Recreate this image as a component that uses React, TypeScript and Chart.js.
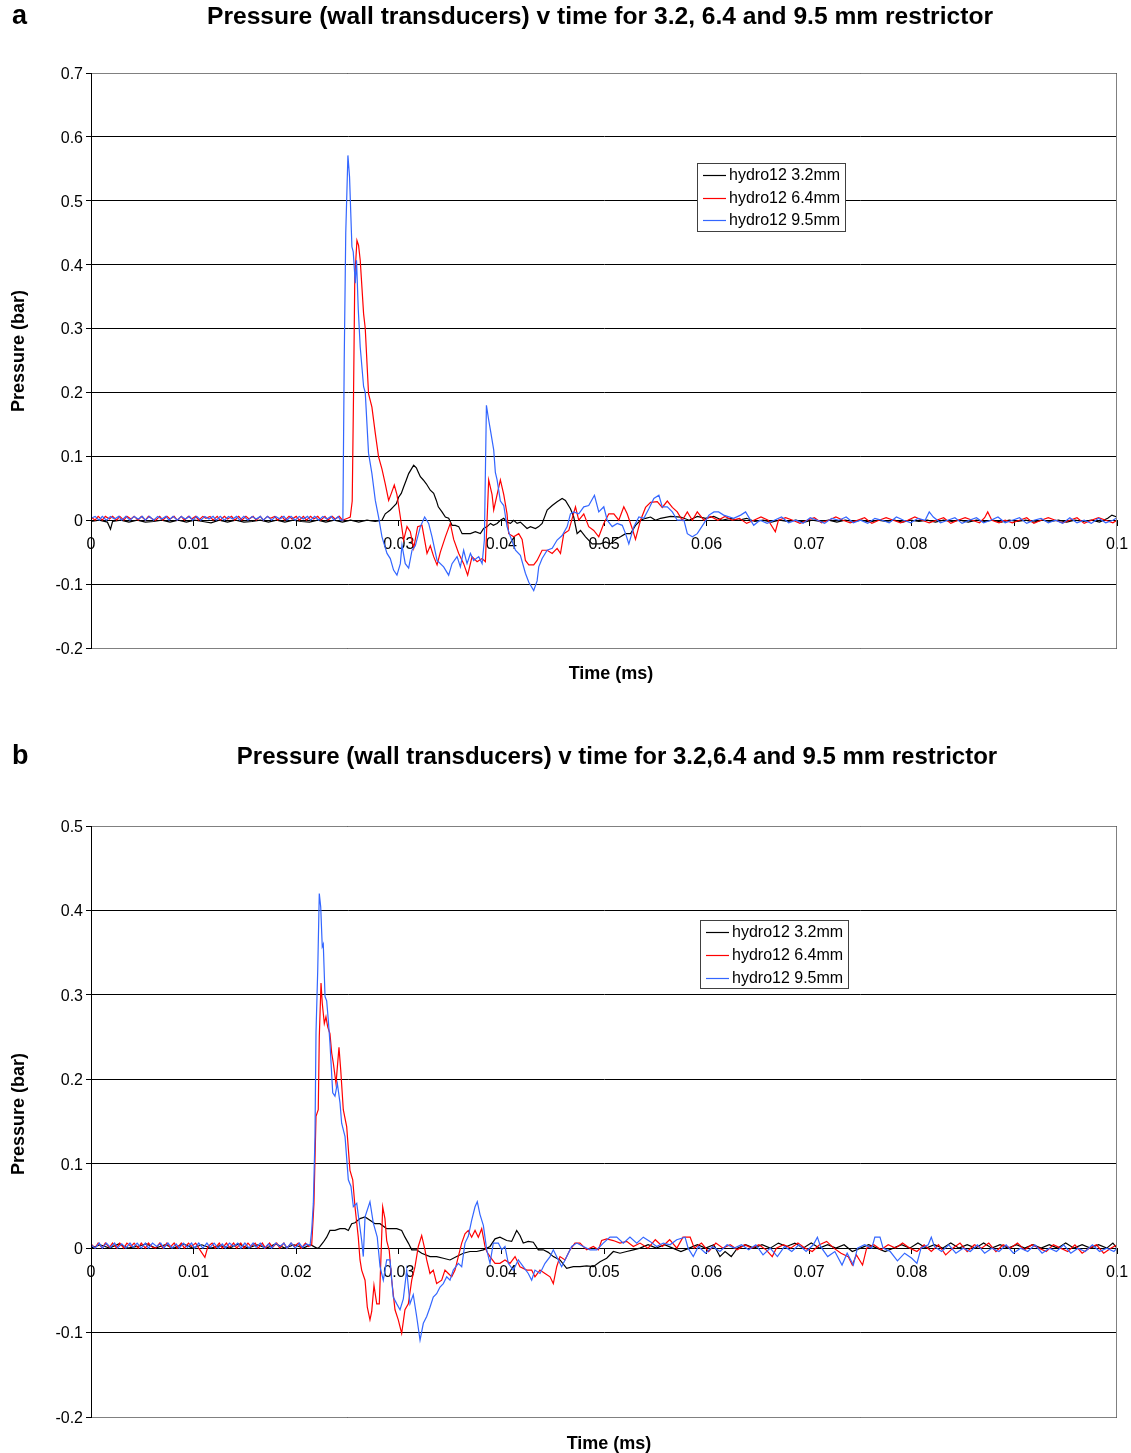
import React, { useEffect, useRef } from 'react';
import { Chart, registerables } from 'chart.js';

Chart.register(...registerables);

// ---------- Panel a : [time (ms), pressure (bar)] ----------
const a32: number[][] = [
  [0,-0.002],[0.0008,0],[0.0016,-0.003],[0.0019,-0.014],[0.0021,-0.002],[0.0029,0],[0.0037,-0.003],[0.0045,0],[0.0053,-0.003],[0.0061,-0.002],[0.0069,0],[0.0077,-0.003],[0.0085,0],[0.0093,-0.003],[0.0101,0],[0.0109,-0.002],[0.0117,-0.004],[0.0125,0],[0.0133,-0.003],[0.0141,0],[0.0149,-0.003],[0.0157,-0.002],[0.0165,0],[0.0173,-0.003],[0.0181,0],[0.0189,-0.003],[0.0197,0],[0.0205,-0.002],[0.0213,-0.003],[0.0221,0],[0.0229,-0.003],[0.0237,0],[0.0245,-0.003],[0.0253,0],[0.0261,-0.003],[0.0269,0],[0.0277,-0.002],
  [0.02836,0],[0.02852,0.005],[0.02868,0.01],[0.02917,0.016],[0.02946,0.021],[0.02976,0.026],[0.02998,0.036],[0.03024,0.042],[0.03047,0.052],[0.03073,0.063],[0.03096,0.073],[0.03122,0.08],[0.03145,0.086],[0.03171,0.082],[0.0319,0.075],[0.0321,0.068],[0.03239,0.063],[0.03268,0.057],[0.03307,0.047],[0.0334,0.042],[0.03366,0.031],[0.03385,0.021],[0.03421,0.013],[0.03454,0.005],[0.03486,0.003],[0.03519,-0.008],[0.03551,-0.008],[0.03584,-0.01],[0.03617,-0.021],[0.03659,-0.021],[0.03698,-0.021],[0.03746,-0.018],[0.03795,-0.021],[0.03827,-0.013],[0.03861,-0.01],[0.03893,-0.005],[0.03922,-0.008],[0.03958,-0.005],[0.0399,0],[0.04023,0.003],[0.04055,-0.003],[0.04088,-0.005],[0.0412,0],[0.04153,-0.005],[0.04185,-0.003],[0.0425,-0.013],[0.04283,-0.01],[0.04332,-0.013],[0.04364,-0.01],[0.04397,-0.005],[0.04446,0.016],[0.04495,0.023],[0.04543,0.029],[0.04592,0.034],[0.04624,0.031],[0.04673,0.018],[0.04705,0.005],[0.04738,-0.021],[0.04771,-0.016],[0.0482,-0.026],[0.04885,-0.037],[0.04966,-0.037],[0.05015,-0.034],[0.05063,-0.037],[0.05112,-0.03],[0.05161,-0.026],[0.0521,-0.021],[0.05259,-0.021],[0.05307,-0.008],[0.05356,0],[0.05405,0.003],[0.05454,0.005],[0.05502,0],[0.05551,0.003],[0.05649,0.006],[0.05746,0.005],
  [0.0583,0],[0.0591,0.006],[0.0599,0.003],[0.0607,0.006],[0.0615,0],[0.0623,0.003],[0.0631,0],[0.0639,0.003],[0.0647,-0.002],[0.0655,0],[0.0663,-0.003],[0.0671,0],[0.0679,-0.002],[0.0687,0],[0.0695,-0.003],[0.0703,0],[0.0711,-0.002],[0.0719,0],[0.0727,-0.003],[0.0735,0],[0.0743,-0.002],[0.0751,0],[0.0759,-0.003],[0.0767,0],[0.0775,-0.002],[0.0783,0],[0.0791,-0.003],[0.0799,0],[0.0807,-0.002],[0.0815,0],[0.0823,-0.003],[0.0831,0],[0.0839,-0.002],[0.0847,0],[0.0855,-0.003],[0.0863,0],[0.0871,-0.002],[0.0879,0],[0.0887,-0.003],[0.0895,0],[0.0903,-0.002],[0.0911,0],[0.0919,-0.003],[0.0927,0],[0.0935,-0.002],[0.0943,0],[0.0951,-0.003],[0.0959,0],[0.0967,-0.002],[0.0975,0],[0.0983,-0.003],[0.0991,0.003],[0.0995,0.008],[0.1,0.005],
];

const a64: number[][] = [
  [0,0.005],[0.0004,0],[0.0007,0.006],[0.0011,0],[0.0014,0.006],[0.0018,0.002],[0.0021,0.006],[0.0025,0],[0.0028,0.006],[0.0032,0],[0.0035,0.006],[0.0039,0.002],[0.0042,0.006],[0.0046,0],[0.0049,0.006],[0.0053,0],[0.0056,0.006],[0.006,0.002],[0.0063,0],[0.0067,0.006],[0.007,0],[0.0074,0.006],[0.0077,0.002],[0.0081,0.006],[0.0084,0],[0.0088,0.006],[0.0091,0],[0.0095,0.006],[0.0098,0.002],[0.0102,0.006],[0.0105,0],[0.0109,0.006],[0.0112,0.003],[0.0116,0.006],[0.0119,0],[0.0123,0.006],[0.0126,0],[0.013,0.006],[0.0133,0.002],[0.0137,0.006],[0.014,0],[0.0144,0.006],[0.0147,0],[0.0151,0.006],[0.0154,0.002],[0.0158,0.006],[0.0161,0],[0.0165,0.006],[0.0168,0],[0.0172,0.006],[0.0175,0.003],[0.0179,0.006],[0.0182,0],[0.0186,0.006],[0.0189,0],[0.0193,0.006],[0.0196,0.002],[0.02,0.006],[0.0203,0],[0.0207,0.006],[0.021,0],[0.0214,0.006],[0.0217,0.002],[0.0221,0.006],[0.0224,0],[0.0228,0.006],[0.0231,0],[0.0235,0.006],[0.0238,0.002],[0.0242,0.006],[0.0245,0],[0.025,0.003],
  [0.02527,0.005],[0.02546,0.03],[0.02559,0.2],[0.02571,0.38],[0.02592,0.438],[0.02608,0.43],[0.02624,0.407],[0.02657,0.323],[0.02673,0.3],[0.02705,0.198],[0.02738,0.177],[0.02771,0.136],[0.02803,0.099],[0.02836,0.08],[0.02868,0.057],[0.02901,0.031],[0.02927,0.042],[0.02956,0.055],[0.02982,0.04],[0.03015,0.005],[0.03047,-0.031],[0.0308,-0.01],[0.03112,-0.018],[0.03145,-0.044],[0.03184,-0.01],[0.03226,-0.008],[0.03275,-0.052],[0.03307,-0.04],[0.0334,-0.057],[0.03373,-0.07],[0.03405,-0.05],[0.03454,-0.026],[0.03502,-0.005],[0.03535,-0.03],[0.03584,-0.052],[0.03632,-0.068],[0.03671,-0.086],[0.03714,-0.057],[0.03763,-0.065],[0.03812,-0.06],[0.03844,-0.065],[0.03876,0.063],[0.03909,0.04],[0.03925,0.016],[0.03958,0.04],[0.0399,0.063],[0.04023,0.04],[0.04055,0.01],[0.04071,-0.021],[0.0412,-0.026],[0.04169,-0.021],[0.04202,-0.03],[0.04234,-0.063],[0.04267,-0.07],[0.04315,-0.07],[0.04348,-0.063],[0.04397,-0.047],[0.04446,-0.047],[0.04495,-0.052],[0.04543,-0.044],[0.04576,-0.052],[0.04608,-0.021],[0.04657,-0.016],[0.0469,0.003],[0.04722,0.021],[0.04754,0],[0.04803,0.01],[0.04851,-0.01],[0.049,-0.016],[0.04949,-0.026],[0.04998,-0.005],[0.05047,0.01],[0.05096,0.01],[0.05144,0],[0.05193,0.021],[0.05226,0.01],[0.05275,-0.013],[0.05307,-0.03],[0.05356,0],[0.05405,0.02],[0.05454,0.028],[0.05519,0.029],[0.05568,0.02],[0.05617,0.03],[0.05666,0.02],[0.05714,0.013],[0.05763,0],[0.05812,0.013],[0.05861,0],[0.05909,0.013],[0.05974,0],[0.06039,0.006],
  [0.0611,0],[0.0618,0.006],[0.0625,0],[0.0632,0.003],[0.0639,-0.005],[0.0646,0],[0.0653,0.005],[0.066,0],[0.0667,-0.018],[0.067,0],[0.0677,0.004],[0.0684,0],[0.0691,-0.005],[0.0698,0],[0.0705,0.004],[0.0712,-0.004],[0.0719,0],[0.0726,0.005],[0.0733,0],[0.074,-0.004],[0.0747,0],[0.0754,0.004],[0.0761,-0.005],[0.0768,0],[0.0775,0.004],[0.0782,0],[0.0789,-0.004],[0.0796,0],[0.0803,0.005],[0.081,0],[0.0817,-0.004],[0.0824,0],[0.0831,0.004],[0.0838,-0.005],[0.0845,0],[0.0852,0.004],[0.0859,0],[0.0866,-0.004],[0.0871,0.004],[0.0874,0.013],[0.0878,0],[0.0885,-0.004],[0.0891,0],[0.0898,-0.004],[0.0905,0],[0.0912,0.004],[0.0919,-0.005],[0.0926,0],[0.0933,0.004],[0.094,0],[0.0947,-0.004],[0.0954,0],[0.0961,0.004],[0.0968,-0.005],[0.0975,0],[0.0982,0.004],[0.0989,0],[0.0996,-0.004],[0.1,0],
];

const a95: number[][] = [
  [0,0.003],[0.0004,0.006],[0.0008,0],[0.0011,0.006],[0.0015,0],[0.0019,0.006],[0.0023,0.002],[0.0027,0.006],[0.003,0],[0.0034,0.006],[0.0038,0],[0.0042,0.006],[0.0046,0.002],[0.005,0.006],[0.0053,0],[0.0057,0.006],[0.0061,0],[0.0065,0.006],[0.0069,0.002],[0.0073,0.006],[0.0076,0],[0.008,0.006],[0.0084,0],[0.0088,0.006],[0.0092,0.002],[0.0096,0.006],[0.0099,0],[0.0103,0.006],[0.0107,0],[0.0111,0.006],[0.0115,0.002],[0.0119,0.006],[0.0122,0],[0.0126,0.006],[0.013,0],[0.0134,0.006],[0.0138,0.002],[0.0142,0.006],[0.0145,0],[0.0149,0.006],[0.0153,0],[0.0157,0.006],[0.0161,0.002],[0.0165,0.006],[0.0168,0],[0.0172,0.006],[0.0176,0],[0.018,0.006],[0.0184,0.002],[0.0188,0.006],[0.0191,0],[0.0195,0.006],[0.0199,0],[0.0203,0.006],[0.0207,0.002],[0.0211,0.006],[0.0214,0],[0.0218,0.006],[0.0222,0],[0.0226,0.006],[0.023,0.002],[0.0234,0.006],[0.0237,0],[0.0241,0.006],[0.0243,0],
  [0.02455,0],[0.02468,0.25],[0.02483,0.45],[0.02504,0.571],[0.0252,0.537],[0.02532,0.48],[0.02543,0.428],[0.02556,0.42],[0.02576,0.371],[0.02588,0.407],[0.02605,0.33],[0.02624,0.271],[0.02657,0.209],[0.02673,0.2],[0.02705,0.105],[0.02738,0.073],[0.02771,0.031],[0.02803,0.005],[0.02836,-0.026],[0.02885,-0.052],[0.02917,-0.06],[0.02949,-0.078],[0.02982,-0.086],[0.03015,-0.068],[0.03031,-0.039],[0.03063,-0.068],[0.03096,-0.075],[0.03129,-0.047],[0.03161,-0.04],[0.0321,-0.01],[0.03252,0.005],[0.03291,-0.005],[0.03324,-0.026],[0.03373,-0.063],[0.03437,-0.073],[0.03486,-0.086],[0.03519,-0.068],[0.03568,-0.057],[0.036,-0.073],[0.03632,-0.047],[0.03665,-0.068],[0.03698,-0.052],[0.0373,-0.063],[0.03779,-0.057],[0.03812,-0.068],[0.03834,-0.031],[0.03854,0.18],[0.03873,0.16],[0.03893,0.141],[0.03925,0.11],[0.03941,0.075],[0.03958,0.063],[0.0399,0.03],[0.04023,0.023],[0.04055,-0.01],[0.04088,-0.026],[0.04137,-0.047],[0.04185,-0.055],[0.04234,-0.083],[0.04267,-0.097],[0.04315,-0.11],[0.04348,-0.095],[0.04364,-0.073],[0.04397,-0.06],[0.04446,-0.047],[0.04495,-0.044],[0.04543,-0.031],[0.04592,-0.024],[0.04641,-0.01],[0.04673,0.01],[0.04705,0.013],[0.04754,0.01],[0.04803,0.021],[0.04851,0.023],[0.04907,0.039],[0.04949,0.013],[0.04998,0.021],[0.05031,0],[0.0508,-0.01],[0.05129,-0.005],[0.05178,-0.008],[0.0521,-0.021],[0.05242,-0.037],[0.05291,-0.01],[0.0534,0.005],[0.05388,0.003],[0.05437,0.018],[0.05486,0.034],[0.05535,0.039],[0.05568,0.021],[0.05617,0.021],[0.05666,0.013],[0.05714,0],[0.05779,0],[0.05812,-0.021],[0.05861,-0.026],[0.05909,-0.021],[0.05974,-0.005],[0.06023,0.008],[0.06072,0.013],[0.06117,0.013],[0.06166,0.008],[0.06263,0.003],[0.06332,0.008],[0.0638,0.013],[0.06459,-0.008],
  [0.0652,0],[0.0659,-0.005],[0.0666,0],[0.0673,0.005],[0.068,-0.004],[0.0687,0],[0.0694,-0.005],[0.0701,0.004],[0.0708,0],[0.0715,-0.005],[0.0722,0.003],[0.0729,0],[0.0736,0.005],[0.0743,-0.004],[0.075,0],[0.0757,-0.005],[0.0764,0.003],[0.0771,0],[0.0778,-0.004],[0.0785,0.005],[0.0792,0],[0.0799,-0.004],[0.0806,0.003],[0.0813,0],[0.0817,0.013],[0.0821,0.005],[0.0828,-0.004],[0.0835,0],[0.0842,0.004],[0.0849,-0.005],[0.0856,0],[0.0863,0.004],[0.087,-0.004],[0.0877,0],[0.0884,0.005],[0.0891,-0.004],[0.0898,0],[0.0905,0.004],[0.0912,-0.005],[0.0919,0],[0.0926,0.003],[0.0933,-0.004],[0.094,0],[0.0947,-0.005],[0.0954,0.004],[0.0961,-0.004],[0.0968,0],[0.0975,-0.005],[0.0982,0.003],[0.0989,-0.004],[0.0996,0],[0.1,0.004],
];

// ---------- Panel b ----------
const b32: number[][] = [
  [0,0],[0.0009,0.004],[0.0018,0],[0.0027,0.005],[0.0036,0],[0.0045,0.002],[0.0054,0.005],[0.0063,0],[0.0072,0.004],[0.0081,0],[0.009,0.005],[0.0099,0],[0.0108,0.004],[0.0117,0],[0.0126,0.003],[0.0135,0],[0.0144,0.005],[0.0153,0],[0.0162,0.004],[0.0171,0],[0.018,0.005],[0.0189,0],[0.0198,0.004],[0.0207,0],[0.0214,0.004],[0.022,0],
  [0.02215,0],[0.02232,0.002],[0.02264,0.007],[0.02297,0.013],[0.02329,0.021],[0.02378,0.021],[0.02427,0.023],[0.02476,0.023],[0.02508,0.021],[0.02541,0.029],[0.02573,0.03],[0.02622,0.035],[0.02671,0.037],[0.02719,0.033],[0.02768,0.029],[0.02817,0.029],[0.02882,0.023],[0.02931,0.023],[0.0298,0.023],[0.03028,0.021],[0.0306,0.013],[0.03093,0.006],[0.03126,-0.002],[0.03174,-0.002],[0.03223,-0.006],[0.03304,-0.01],[0.03369,-0.01],[0.03434,-0.012],[0.03499,-0.014],[0.03564,-0.01],[0.03629,-0.006],[0.03694,-0.004],[0.03759,-0.004],[0.03824,-0.002],[0.03889,0.002],[0.03938,0.011],[0.03986,0.013],[0.04052,0.009],[0.041,0.008],[0.04149,0.021],[0.04181,0.015],[0.04213,0.006],[0.04262,0.008],[0.04311,0.007],[0.0436,-0.002],[0.04408,-0.002],[0.04457,-0.005],[0.04506,-0.01],[0.04571,-0.014],[0.04636,-0.024],[0.04701,-0.022],[0.04766,-0.022],[0.04831,-0.021],[0.04896,-0.022],[0.04961,-0.016],[0.05026,-0.012],[0.05091,-0.004],[0.05156,-0.006],[0.05221,-0.004],[0.05286,-0.002],[0.05351,0],
  [0.0543,0.004],[0.0551,0],[0.0559,0.004],[0.0567,0],[0.0575,-0.004],[0.0583,0],[0.0591,0.004],[0.0599,0],[0.0607,0.004],[0.0613,-0.01],[0.0618,-0.004],[0.0624,-0.01],[0.063,0],[0.0638,0.004],[0.0646,0],[0.0654,0.004],[0.0662,0],[0.067,0.006],[0.0678,0.002],[0.0686,0.006],[0.0694,0],[0.0702,0.006],[0.071,0],[0.0718,0.004],[0.0726,0],[0.0734,0.004],[0.0742,-0.004],[0.075,0],[0.0758,0.004],[0.0766,0],[0.0774,-0.004],[0.0782,0],[0.079,0.004],[0.0798,0],[0.0806,0.006],[0.0814,0],[0.0822,0.004],[0.083,0],[0.0838,0.006],[0.0846,0],[0.0854,0.004],[0.0862,0],[0.087,0.006],[0.0878,0],[0.0886,0.004],[0.0894,0],[0.0902,0.004],[0.091,0],[0.0918,0.004],[0.0926,0],[0.0934,0.004],[0.0942,0],[0.095,0.006],[0.0958,0],[0.0966,0.004],[0.0974,0],[0.0982,0.004],[0.099,0],[0.0996,0.006],[0.1,0],
];

const b64: number[][] = [
  [0,0.005],[0.0004,0],[0.0007,0.006],[0.0011,0],[0.0014,0.006],[0.0018,0.001],[0.0021,0.006],[0.0025,0],[0.0028,0.006],[0.0032,0],[0.0035,0.006],[0.0039,0.002],[0.0042,0.006],[0.0046,0],[0.0049,0.006],[0.0053,0],[0.0056,0.006],[0.006,0.001],[0.0063,0],[0.0067,0.006],[0.007,0],[0.0074,0.006],[0.0077,0.001],[0.0081,0.006],[0.0084,0],[0.0088,0.006],[0.0091,0],[0.0095,0.006],[0.0098,0.002],[0.0102,0.006],[0.0105,0],[0.0111,-0.011],[0.0114,0.002],[0.0118,0.006],[0.0121,0],[0.0125,0.006],[0.0128,0],[0.0132,0.006],[0.0135,0.001],[0.0139,0.006],[0.0142,0],[0.0146,0.006],[0.0149,0],[0.0153,0.006],[0.0156,0.002],[0.016,0.006],[0.0163,0],[0.0167,0.006],[0.017,0],[0.0174,0.006],[0.0177,0.001],[0.0181,0.006],[0.0184,0],[0.0188,0.006],[0.0191,0],[0.0195,0.006],[0.0198,0.002],[0.0202,0.006],[0.0205,0],[0.0209,0.006],[0.0212,0.002],
  [0.02151,0.004],[0.02173,0.053],[0.02193,0.156],[0.02215,0.164],[0.02225,0.25],[0.02242,0.314],[0.02254,0.29],[0.02274,0.266],[0.0229,0.274],[0.02307,0.262],[0.02329,0.254],[0.02346,0.231],[0.02362,0.219],[0.02388,0.195],[0.02417,0.238],[0.02434,0.211],[0.02459,0.164],[0.02492,0.144],[0.02524,0.092],[0.02551,0.081],[0.02573,0.049],[0.02605,0.013],[0.02622,-0.014],[0.02638,-0.026],[0.02671,-0.038],[0.02693,-0.07],[0.02719,-0.085],[0.02736,-0.075],[0.02758,-0.044],[0.02785,-0.066],[0.0281,-0.066],[0.02833,0.013],[0.02843,0.049],[0.02865,0.035],[0.02882,0.009],[0.02907,-0.003],[0.02931,-0.038],[0.02963,-0.073],[0.02995,-0.085],[0.03028,-0.101],[0.0306,-0.073],[0.03093,-0.066],[0.03126,-0.038],[0.03158,-0.022],[0.0319,0.002],[0.03223,0.015],[0.03255,-0.002],[0.03272,-0.014],[0.03304,-0.03],[0.03336,-0.026],[0.03369,-0.042],[0.03418,-0.038],[0.0345,-0.026],[0.03483,-0.03],[0.03516,-0.034],[0.03548,-0.026],[0.0358,-0.01],[0.03613,0.006],[0.03645,0.017],[0.03677,0.021],[0.0371,0.013],[0.03743,0.021],[0.03775,0.013],[0.03808,0.023],[0.0384,0.002],[0.03857,-0.004],[0.03889,-0.01],[0.03938,-0.018],[0.03986,-0.018],[0.04035,-0.014],[0.04084,-0.018],[0.04133,-0.01],[0.04181,-0.022],[0.04247,-0.026],[0.04295,-0.026],[0.04327,-0.034],[0.04376,-0.026],[0.04425,-0.03],[0.04474,-0.034],[0.04506,-0.042],[0.04539,-0.022],[0.04571,-0.01],[0.0462,-0.014],[0.04669,-0.002],[0.04717,0.006],[0.04766,0.006],[0.04831,-0.002],[0.04896,0.002],[0.04945,-0.002],[0.04977,0.009],[0.05026,0.011],[0.05091,0.009],[0.05156,0.006],[0.05221,0.008],[0.05286,0.002],[0.05351,0.006],
  [0.0543,0],[0.055,0.01],[0.0557,0.002],[0.0564,0.01],[0.0571,0],[0.0577,0.013],[0.0584,0.013],[0.0588,0],[0.0595,0.006],[0.0602,-0.004],[0.0609,0.006],[0.0616,0],[0.0623,0.004],[0.063,-0.002],[0.0637,0.004],[0.0644,0],[0.0651,0.004],[0.0658,-0.002],[0.0664,-0.01],[0.0668,0],[0.0675,0.004],[0.0682,0],[0.0689,0.006],[0.0696,0],[0.0703,-0.004],[0.071,0.004],[0.0717,0.008],[0.0724,0],[0.0731,-0.006],[0.0738,-0.01],[0.0742,-0.02],[0.0746,-0.008],[0.0752,-0.02],[0.0756,0],[0.0763,0.004],[0.077,-0.002],[0.0777,0.004],[0.0784,0],[0.0791,0.006],[0.0798,0],[0.0805,-0.004],[0.0812,0.004],[0.0819,-0.004],[0.0826,0.004],[0.0833,-0.008],[0.084,0],[0.0847,0.006],[0.0854,-0.004],[0.0861,0.004],[0.0868,0],[0.0875,0.006],[0.0882,-0.004],[0.0889,0.004],[0.0896,0],[0.0903,0.006],[0.091,-0.002],[0.0917,0.004],[0.0924,0],[0.0931,-0.004],[0.0938,0.004],[0.0945,0],[0.0952,-0.004],[0.0959,0.004],[0.0966,-0.006],[0.0973,0],[0.098,0.004],[0.0987,-0.006],[0.0994,0],[0.1,0.004],
];

const b95: number[][] = [
  [0,0.004],[0.0004,0],[0.0008,0.006],[0.0011,0],[0.0015,0.006],[0.0019,0.001],[0.0023,0.006],[0.0026,0],[0.003,0.005],[0.0034,0],[0.0038,0.006],[0.0041,0.001],[0.0045,0.006],[0.0049,0],[0.0053,0.006],[0.0056,0],[0.006,0.006],[0.0064,0.002],[0.0068,0.006],[0.0071,0],[0.0075,0.006],[0.0079,0],[0.0083,0.005],[0.0086,0],[0.009,0.006],[0.0094,0.001],[0.0098,0.006],[0.0101,0],[0.0105,0.006],[0.0109,0],[0.0113,0.006],[0.0116,0.001],[0.012,0.006],[0.0124,0],[0.0128,0.005],[0.0131,0],[0.0135,0.006],[0.0139,0.002],[0.0143,0.006],[0.0146,0],[0.015,0.006],[0.0154,0],[0.0158,0.006],[0.0161,0.001],[0.0165,0.006],[0.0169,0],[0.0173,0.005],[0.0176,0],[0.018,0.006],[0.0184,0.002],[0.0188,0.006],[0.0191,0],[0.0195,0.006],[0.0199,0],[0.0203,0.006],[0.0206,0.001],[0.021,0.005],
  [0.02135,0.003],[0.02151,0.021],[0.02167,0.053],[0.02183,0.132],[0.02193,0.255],[0.0221,0.33],[0.02225,0.42],[0.02239,0.404],[0.02254,0.357],[0.02264,0.36],[0.02281,0.298],[0.02297,0.293],[0.02313,0.27],[0.02329,0.243],[0.02356,0.184],[0.02378,0.18],[0.02401,0.195],[0.02427,0.172],[0.02443,0.148],[0.02476,0.132],[0.02508,0.081],[0.02534,0.073],[0.02557,0.049],[0.0259,0.053],[0.02612,0.033],[0.02638,0.009],[0.02654,-0.01],[0.02671,0.037],[0.02719,0.055],[0.02751,0.03],[0.0279,0.013],[0.02817,-0.022],[0.02849,-0.038],[0.02882,-0.014],[0.02914,-0.014],[0.02946,-0.058],[0.0298,-0.066],[0.03012,-0.073],[0.03044,-0.06],[0.03077,-0.026],[0.03109,-0.066],[0.03141,-0.055],[0.03174,-0.081],[0.03207,-0.109],[0.03239,-0.089],[0.03272,-0.081],[0.03304,-0.07],[0.03336,-0.058],[0.03369,-0.054],[0.03402,-0.046],[0.03434,-0.042],[0.03467,-0.034],[0.03499,-0.038],[0.03531,-0.026],[0.0358,-0.018],[0.03613,-0.022],[0.03645,0.006],[0.03677,0.014],[0.0371,0.033],[0.03743,0.049],[0.03765,0.055],[0.03791,0.04],[0.03824,0.027],[0.03857,-0.002],[0.03889,-0.018],[0.03921,0.006],[0.0397,0.006],[0.04003,-0.002],[0.04035,0.002],[0.04067,-0.018],[0.04116,-0.026],[0.04165,-0.014],[0.04213,-0.022],[0.04262,-0.03],[0.04295,-0.038],[0.04327,-0.026],[0.04376,-0.03],[0.04425,-0.018],[0.04474,-0.01],[0.04506,-0.002],[0.04555,-0.014],[0.04587,-0.022],[0.0462,-0.014],[0.04685,0.002],[0.04734,0.006],[0.04798,0.002],[0.04864,-0.002],[0.04929,-0.002],[0.04993,0.006],[0.05058,0.013],[0.05124,0.013],[0.05188,0.006],[0.05253,0.013],[0.05319,0.006],[0.05383,0.013],[0.05448,0.008],[0.05513,0.002],[0.05578,0.006],[0.05643,0.004],[0.05709,0.01],
  [0.0579,0.013],[0.0582,0],[0.0587,-0.01],[0.0592,0.002],[0.0599,-0.006],[0.0606,0.002],[0.0613,-0.004],[0.062,0.004],[0.0627,0],[0.0634,0.004],[0.0641,-0.002],[0.0648,0.004],[0.0655,-0.008],[0.0662,0],[0.0669,-0.01],[0.0676,0.002],[0.0683,-0.004],[0.069,0.004],[0.0697,-0.004],[0.0704,0.004],[0.0708,0.013],[0.0711,0.002],[0.0718,-0.01],[0.0725,-0.004],[0.0732,-0.02],[0.0737,-0.006],[0.0743,-0.02],[0.0747,0],[0.0754,0.004],[0.0761,0],[0.0764,0.013],[0.0769,0.013],[0.0772,0],[0.0779,-0.004],[0.0786,-0.015],[0.0793,-0.006],[0.08,-0.012],[0.0805,-0.018],[0.0809,0],[0.0816,0.004],[0.0819,0.013],[0.0822,0.002],[0.0829,-0.004],[0.0836,0.004],[0.0843,-0.006],[0.085,0],[0.0857,-0.004],[0.0864,0.004],[0.0871,-0.006],[0.0878,0],[0.0885,-0.004],[0.0892,0.004],[0.0899,-0.006],[0.0906,0],[0.0913,-0.004],[0.092,0.004],[0.0927,-0.006],[0.0934,0],[0.0941,-0.004],[0.0948,0.004],[0.0955,-0.006],[0.0962,0],[0.0969,-0.004],[0.0976,0.004],[0.0983,-0.004],[0.099,0],[0.0997,-0.004],[0.1,0],
];

const seriesLabels = ['hydro12 3.2mm', 'hydro12 6.4mm', 'hydro12 9.5mm'];
const seriesColors = ['#000000', '#ff0000', '#3366ff'];
const titleA = 'Pressure (wall transducers) v time for 3.2, 6.4 and 9.5 mm restrictor';
const titleB = 'Pressure (wall transducers) v time for 3.2,6.4 and 9.5 mm restrictor';
const yTitle = 'Pressure (bar)';
const xTitle = 'Time (ms)';

const FONT = '"Liberation Sans", Arial, Helvetica, sans-serif';

type Layout = {
  letter: string; title: string; titleSize: number; titleX: number; titleY: number;
  yTitleX: number; yTitleY: number; xTitleX: number; xTitleY: number;
  legX: number; legY: number; legRows: number[];
};

function makeDecor(L: Layout) {
  return {
    id: 'decor',
    afterDraw(chart: any) {
      const { ctx, chartArea: ca } = chart;
      ctx.save();
      // gray plot border (top, right, bottom)
      ctx.strokeStyle = '#808080';
      ctx.lineWidth = 1;
      ctx.beginPath();
      ctx.moveTo(Math.round(ca.left) + 0.5, Math.round(ca.top) + 0.5);
      ctx.lineTo(Math.round(ca.right) - 0.5, Math.round(ca.top) + 0.5);
      ctx.lineTo(Math.round(ca.right) - 0.5, Math.round(ca.bottom) + 0.5);
      ctx.lineTo(Math.round(ca.left) + 0.5, Math.round(ca.bottom) + 0.5);
      ctx.stroke();
      // left axis line
      ctx.strokeStyle = '#000';
      ctx.beginPath();
      ctx.moveTo(Math.round(ca.left) + 0.5, Math.round(ca.top));
      ctx.lineTo(Math.round(ca.left) + 0.5, Math.round(ca.bottom) + 1);
      ctx.stroke();

      ctx.fillStyle = '#000';
      ctx.textBaseline = 'middle';
      // panel letter
      ctx.textAlign = 'left';
      ctx.font = `bold 27px ${FONT}`;
      ctx.fillText(L.letter, 12, L.titleY);
      // title
      ctx.textAlign = 'center';
      ctx.font = `bold ${L.titleSize}px ${FONT}`;
      ctx.fillText(L.title, L.titleX, L.titleY);
      // axis titles
      ctx.font = `bold 18px ${FONT}`;
      ctx.fillText(xTitle, L.xTitleX, L.xTitleY);
      ctx.save();
      ctx.translate(L.yTitleX, L.yTitleY);
      ctx.rotate(-Math.PI / 2);
      ctx.fillText(yTitle, 0, 0);
      ctx.restore();

      // legend
      const w = 148, h = 68;
      ctx.fillStyle = '#ffffff';
      ctx.fillRect(L.legX, L.legY, w, h);
      ctx.strokeStyle = '#404040';
      ctx.lineWidth = 1;
      ctx.strokeRect(L.legX + 0.5, L.legY + 0.5, w, h);
      ctx.font = `16px ${FONT}`;
      ctx.textAlign = 'left';
      seriesLabels.forEach((lab, i) => {
        const ry = L.legY + L.legRows[i];
        ctx.strokeStyle = seriesColors[i];
        ctx.lineWidth = 1.2;
        ctx.beginPath();
        ctx.moveTo(L.legX + 6, Math.round(ry) + 0.5);
        ctx.lineTo(L.legX + 29, Math.round(ry) + 0.5);
        ctx.stroke();
        ctx.fillStyle = '#000';
        ctx.fillText(lab, L.legX + 32, ry + 1);
      });
      ctx.restore();
    },
  };
}

function Panel(props: {
  top: number; height: number; data: number[][][]; yMax: number;
  padTop: number; padBottom: number; layout: Layout;
}) {
  const ref = useRef<HTMLCanvasElement | null>(null);
  useEffect(() => {
    if (!ref.current) return;
    const orders = [3, 2, 1];
    const chart = new Chart(ref.current, {
      type: 'scatter',
      data: {
        datasets: props.data.map((s, i) => ({
          label: seriesLabels[i],
          data: s.map((p) => ({ x: p[0], y: p[1] })),
          showLine: true,
          borderColor: seriesColors[i],
          backgroundColor: seriesColors[i],
          borderWidth: 1.2,
          pointRadius: 0,
          tension: 0,
          order: orders[i],
        })),
      },
      options: {
        animation: false,
        responsive: false,
        events: [],
        layout: { padding: { left: 0, right: 14, top: props.padTop, bottom: props.padBottom } },
        plugins: { legend: { display: false }, tooltip: { enabled: false }, title: { display: false } },
        scales: {
          x: {
            type: 'linear',
            position: { y: 0 } as any,
            min: 0,
            max: 0.1,
            afterFit: (s: any) => { s.paddingLeft = 0; s.paddingRight = 0; },
            ticks: {
              stepSize: 0.01,
              maxRotation: 0,
              autoSkip: false,
              padding: 10,
              color: '#000',
              font: { family: FONT, size: 16 },
              callback: (v: any) => (Number(v) === 0 ? '0' : String(Number(Number(v).toFixed(2)))),
            },
            grid: { drawOnChartArea: false, tickLength: 5, color: '#000' },
            border: { color: '#000', width: 1 },
          },
          y: {
            type: 'linear',
            position: 'left',
            min: -0.2,
            max: props.yMax,
            afterFit: (scale: any) => { scale.width = 91; },
            ticks: {
              stepSize: 0.1,
              padding: 3,
              labelOffset: 1.5,
              color: '#000',
              font: { family: FONT, size: 16 },
              callback: (v: any) => (Math.abs(Number(v)) < 1e-9 ? '0' : Number(v).toFixed(1)),
            },
            grid: { color: '#000', tickLength: 5, lineWidth: 1 },
            border: { color: '#000', width: 1 },
          },
        },
      },
      plugins: [makeDecor(props.layout)],
    } as any);
    return () => chart.destroy();
  }, []);
  return (
    <canvas
      ref={ref}
      width={1131}
      height={props.height}
      style={{ position: 'absolute', left: 0, top: props.top, width: 1131, height: props.height }}
    />
  );
}

export default function App() {
  const layoutA: Layout = {
    letter: 'a', title: titleA, titleSize: 24.6, titleX: 600, titleY: 17,
    yTitleX: 19, yTitleY: 351, xTitleX: 611, xTitleY: 674,
    legX: 697, legY: 163, legRows: [12, 34.5, 57],
  };
  const layoutB: Layout = {
    letter: 'b', title: titleB, titleSize: 24, titleX: 617, titleY: 27,
    yTitleX: 19, yTitleY: 384, xTitleX: 609, xTitleY: 714,
    legX: 700, legY: 190, legRows: [12, 35, 58],
  };
  return (
    <div style={{ position: 'absolute', left: 0, top: 0, width: 1131, height: 1453, overflow: 'hidden', background: '#fff' }}>
      <Panel top={0} height={700} data={[a32, a64, a95]} yMax={0.7} padTop={73} padBottom={52} layout={layoutA} />
      <Panel top={730} height={723} data={[b32, b64, b95]} yMax={0.5} padTop={96} padBottom={36} layout={layoutB} />
    </div>
  );
}
